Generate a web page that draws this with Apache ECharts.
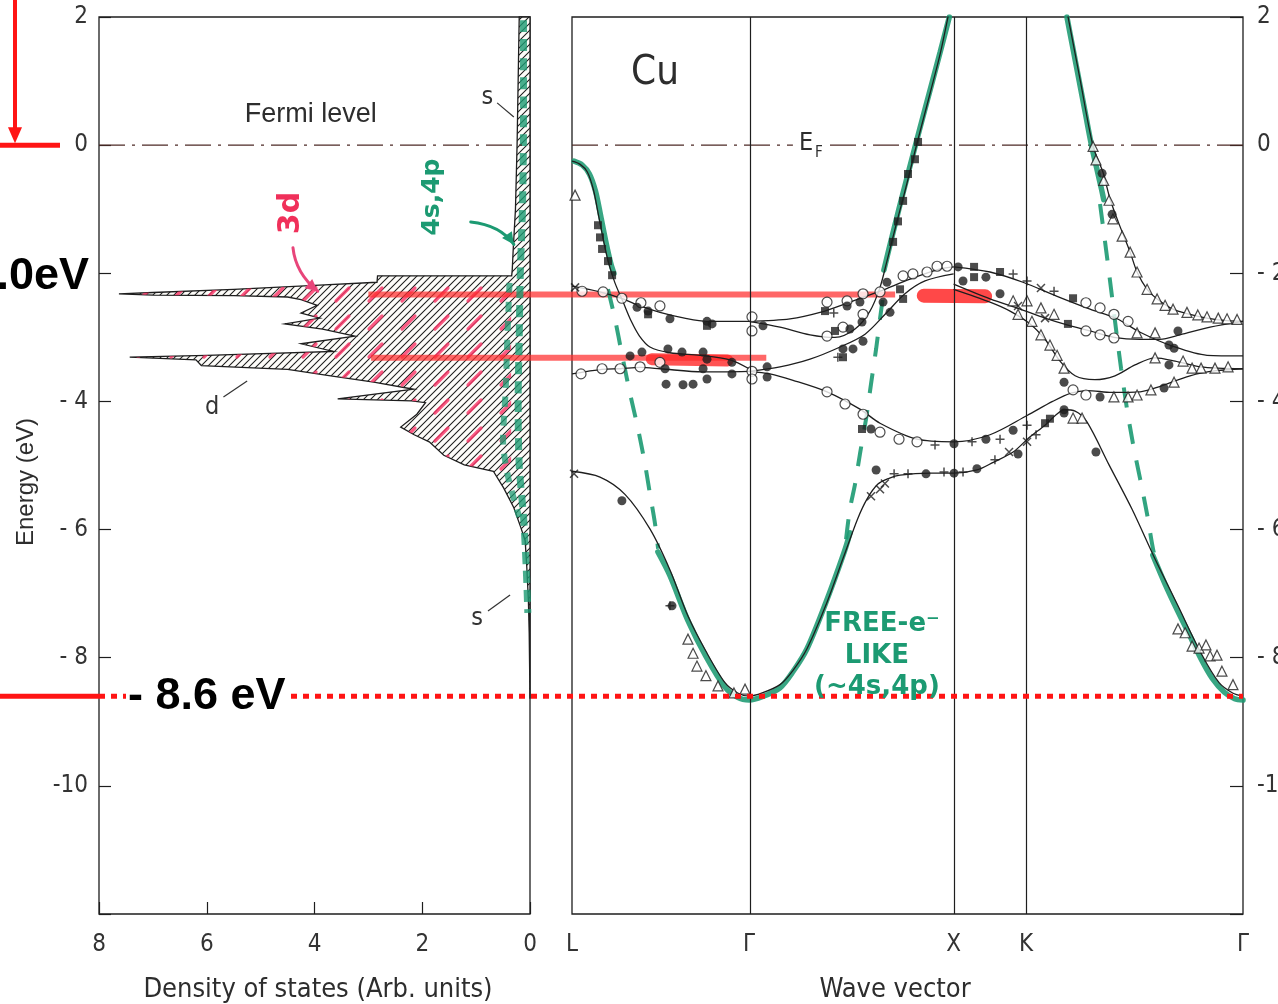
<!DOCTYPE html>
<html>
<head>
<meta charset="utf-8">
<title>Cu: density of states and band structure</title>
<script src="https://cdn.jsdelivr.net/npm/echarts@6/dist/echarts.min.js"></script>
<style>
  html, body { margin: 0; padding: 0; background: #ffffff; }
  #chart { width: 1278px; height: 1004px; }
</style>
</head>
<body>
<div id="chart"></div>
<script>
// ---------------------------------------------------------------
// Data (energies in eV relative to E_F, wave vector in units 2π/a)
// ---------------------------------------------------------------
const kPoints = [0, 0.866, 1.866, 2.220, 3.281];
const kLabels = ['L', 'Γ', 'X', 'K', 'Γ'];
const energyTicks = [2, 0, -2, -4, -6, -8, -10];
const dosTicks = [8, 6, 4, 2, 0];

const fermiEnergy = 0;
const bandBottom = -8.6;        // Γ1, bottom of the s band
const dPeakUpper = -2.33;       // upper d-band peak
const dPeakLower = -3.32;       // lower d-band peak

const dosValue = [0.20, 0.22, 0.24, 0.27, 0.31, 0.33, 0.34, 2.83, 2.84, 4.0, 5.5, 7.0, 7.63, 7.0, 5.5, 4.5, 4.25, 3.95,
  4.25, 3.90, 4.55, 3.85, 3.25, 4.25, 3.65, 6.0, 7.43, 6.2, 6.1, 4.5, 3.70, 2.9, 2.16, 3.57, 2.2, 1.94, 2.1, 2.40,
  2.15, 1.87, 1.60, 1.22, 0.68, 0.49, 0.30, 0.17, 0.09, 0.06, 0.03, 0.015, 0.0];
const dosEnergy = [2.0, 1.0, 0.0, -1.0, -1.6, -1.95, -2.04, -2.04, -2.14, -2.19, -2.25, -2.30, -2.32, -2.34, -2.35, -2.37, -2.41, -2.50,
  -2.62, -2.70, -2.79, -2.87, -2.98, -3.10, -3.22, -3.28, -3.31, -3.35, -3.44, -3.50, -3.60, -3.70, -3.81, -3.96, -3.99, -4.02, -4.20, -4.40,
  -4.52, -4.63, -4.84, -4.99, -5.09, -5.35, -5.66, -5.97, -6.17, -6.58, -7.10, -7.61, -8.64];

// 4s,4p marker strokes along the DOS edge
const dosSpOuter = [[0.12, 1.95], [0.12, 0.5], [0.14, -1.0], [0.18, -2.0], [0.2, -3.0], [0.22, -4.0], [0.2, -5.0], [0.12, -5.8], [0.07, -6.6], [0.04, -7.3]];
const dosSpInner = [[0.38, -2.15], [0.42, -3.0], [0.45, -3.8], [0.5, -4.6], [0.4, -5.2], [0.2, -5.8]];

// calculated bands
const bandA = [[0, -5.09], [0.137, -5.18], [0.259, -5.45], [0.381, -5.99], [0.479, -6.63], [0.567, -7.35], [0.655, -7.90], [0.748, -8.39],
  [0.81, -8.55], [0.866, -8.6], [0.93, -8.55], [1.017, -8.42], [1.08, -8.2], [1.149, -7.86], [1.240, -7.19], [1.330, -6.41], [1.397, -5.83],
  [1.443, -5.52], [1.496, -5.29], [1.55, -5.2], [1.604, -5.15], [1.751, -5.12], [1.866, -5.12], [1.980, -5.07], [2.06, -4.95], [2.157, -4.79],
  [2.24, -4.55], [2.313, -4.37], [2.37, -4.2], [2.406, -4.13], [2.46, -4.15], [2.518, -4.32], [2.626, -4.99], [2.738, -5.68], [2.851, -6.46],
  [2.963, -7.19], [3.076, -7.93], [3.164, -8.39], [3.23, -8.55], [3.281, -8.6]];
const bandB = [[0.866, -3.53], [0.968, -3.57], [1.081, -3.67], [1.247, -3.85], [1.408, -4.12], [1.506, -4.34], [1.687, -4.59], [1.866, -4.63],
  [2.044, -4.52], [2.225, -4.22], [2.35, -4.0], [2.44, -3.87], [2.52, -3.83], [2.64, -3.86], [2.778, -3.85], [2.861, -3.78], [3.022, -3.60],
  [3.15, -3.52], [3.281, -3.49]];
const bandL1 = [[0, -0.25], [0.04, -0.3], [0.075, -0.42], [0.105, -0.7], [0.13, -1.1], [0.155, -1.5], [0.18, -1.85], [0.21, -2.15], [0.25, -2.45],
  [0.29, -2.75], [0.33, -2.98], [0.381, -3.15], [0.479, -3.24], [0.626, -3.28], [0.773, -3.35], [0.866, -3.49]];
const bandL2 = [[0, -2.20], [0.137, -2.29], [0.249, -2.40], [0.333, -2.51], [0.430, -2.61], [0.55, -2.70], [0.660, -2.75], [0.866, -2.75]];
const bandL3 = [[0, -3.57], [0.147, -3.50], [0.235, -3.49], [0.333, -3.47], [0.430, -3.49], [0.641, -3.54], [0.866, -3.53]];
const bandG1 = [[0.866, -2.75], [1.017, -2.84], [1.164, -2.96], [1.286, -3.00], [1.384, -2.87], [1.457, -2.59], [1.506, -2.22], [1.540, -1.81],
  [1.589, -1.19], [1.628, -0.72], [1.687, 0.03], [1.751, 0.81], [1.800, 1.42], [1.839, 2.01]];
const bandG2 = [[0.866, -2.75], [1.066, -2.71], [1.213, -2.61], [1.359, -2.45], [1.506, -2.28], [1.653, -2.09], [1.800, -1.93], [1.866, -1.90]];
const bandG3 = [[0.866, -3.53], [1.017, -3.46], [1.164, -3.34], [1.311, -3.15], [1.433, -2.95], [1.531, -2.64], [1.628, -2.32], [1.726, -2.12], [1.866, -2.01]];
const bandS1 = [[2.425, 2.01], [2.484, 1.03], [2.548, -0.02], [2.596, -0.42], [2.631, -0.84], [2.670, -1.19], [2.729, -1.67], [2.763, -1.98],
  [2.812, -2.25], [2.861, -2.40], [2.939, -2.56], [3.007, -2.63], [3.105, -2.70], [3.203, -2.74], [3.281, -2.75]];
const bandS2 = [[1.866, -1.90], [2.044, -1.98], [2.205, -2.14], [2.372, -2.36], [2.533, -2.56], [2.665, -2.71], [2.778, -2.92], [2.939, -3.14],
  [3.105, -3.28], [3.281, -3.29]];
const bandS3 = [[1.866, -2.17], [2.044, -2.40], [2.191, -2.56], [2.313, -2.70], [2.425, -2.81], [2.533, -2.90], [2.650, -3.00], [2.778, -3.03],
  [2.875, -3.03], [2.973, -2.96], [3.120, -2.84], [3.281, -2.75]];
const bandS4 = [[1.866, -2.25], [2.044, -2.45], [2.142, -2.59], [2.240, -2.79], [2.313, -3.03], [2.386, -3.37], [2.460, -3.60], [2.557, -3.66],
  [2.655, -3.60], [2.753, -3.43], [2.851, -3.32], [2.949, -3.37], [3.071, -3.46], [3.281, -3.49]];

// measured points
const filledCircles = [[0.244, -5.55], [0.489, -7.19], [0.318, -2.53], [0.372, -2.59], [0.479, -2.71], [0.660, -2.75], [0.685, -2.79], [0.934, -2.82],
  [1.345, -2.51], [1.408, -2.45], [1.521, -2.45], [1.540, -2.14], [0.284, -3.29], [0.342, -3.23], [0.469, -3.18], [0.538, -3.23], [0.641, -3.23],
  [0.660, -3.34], [0.455, -3.49], [0.641, -3.49], [0.782, -3.39], [0.782, -3.57], [0.954, -3.46], [0.954, -3.62], [0.460, -3.73], [0.543, -3.74],
  [0.592, -3.73], [0.660, -3.65], [1.325, -3.18], [1.374, -3.18], [1.423, -3.06], [1.359, -2.87], [1.418, -2.76], [1.555, -2.61], [1.462, -4.43],
  [1.868, -4.66], [2.024, -4.59], [2.157, -4.45], [2.406, -4.18], [2.562, -4.79], [1.487, -5.07], [1.731, -5.13], [1.868, -5.12], [1.980, -5.05],
  [2.181, -4.82], [2.406, -4.13], [1.888, -1.90], [1.912, -2.12], [2.024, -2.06], [2.093, -2.32], [2.919, -3.12], [2.406, -3.70], [2.582, -3.93],
  [2.895, -3.79], [2.919, -3.43], [2.944, -3.17], [2.963, -2.90], [2.592, -0.44], [2.641, -1.08]];
const openCircles = [[0.049, -2.28], [0.152, -2.29], [0.244, -2.39], [0.337, -2.46], [0.430, -2.51], [1.247, -2.45], [1.345, -2.43], [1.423, -2.32],
  [1.506, -2.29], [1.619, -2.04], [1.667, -2.01], [1.736, -1.98], [1.785, -1.89], [1.834, -1.89], [0.880, -2.68], [0.880, -2.90], [0.880, -3.53],
  [0.880, -3.65], [0.044, -3.57], [0.147, -3.49], [0.235, -3.49], [0.333, -3.46], [0.430, -3.39], [1.247, -3.85], [1.335, -4.04], [1.423, -4.20],
  [1.506, -4.48], [1.599, -4.59], [1.687, -4.63], [1.247, -2.98], [1.325, -2.84], [1.423, -2.64], [2.513, -2.46], [2.582, -2.54], [2.650, -2.64],
  [2.719, -2.75], [2.513, -2.90], [2.582, -2.96], [2.650, -3.01], [2.450, -3.82], [2.513, -3.90]];
const filledSquares = [[0.127, -1.25], [0.137, -1.44], [0.147, -1.62], [0.176, -1.81], [0.196, -2.03], [0.372, -2.64], [0.660, -2.82], [1.237, -2.59],
  [1.286, -2.90], [1.604, -2.25], [1.619, -2.40], [1.325, -3.31], [1.692, 0.05], [1.677, -0.22], [1.643, -0.45], [1.619, -0.87], [1.594, -1.19],
  [1.570, -1.51], [1.418, -4.43], [2.313, -4.34], [2.337, -4.27], [1.966, -1.90], [1.966, -2.06], [2.093, -1.98], [2.450, -2.39], [2.425, -2.79]];
const openTriangles = [[0.015, -0.78], [0.567, -7.71], [0.592, -7.93], [0.611, -8.13], [0.655, -8.28], [0.714, -8.44], [0.792, -8.55], [0.846, -8.49],
  [2.548, -0.02], [2.562, -0.23], [2.60, -0.55], [2.626, -0.86], [2.645, -1.15], [2.69, -1.42], [2.729, -1.67], [2.763, -1.98], [2.812, -2.25],
  [2.861, -2.40], [2.90, -2.50], [2.939, -2.56], [3.007, -2.61], [3.06, -2.65], [3.105, -2.68], [3.16, -2.70], [3.203, -2.71], [3.252, -2.72],
  [2.157, -2.43], [2.225, -2.43], [2.293, -2.54], [2.357, -2.64], [2.181, -2.64], [2.249, -2.75], [2.293, -2.96], [2.337, -3.12], [2.372, -3.28],
  [2.406, -3.48], [2.650, -3.93], [2.719, -3.93], [2.763, -3.90], [2.831, -3.82], [2.944, -3.70], [2.763, -2.93], [2.851, -2.93], [2.851, -3.32],
  [2.988, -3.37], [3.032, -3.48], [3.076, -3.48], [3.144, -3.48], [3.208, -3.46], [2.450, -4.26], [2.494, -4.26], [2.963, -7.55], [2.998, -7.61],
  [3.032, -7.82], [3.066, -7.85], [3.100, -7.80], [3.120, -7.97], [3.154, -7.96], [3.178, -8.21], [3.232, -8.42]];
const crosses = [[0.01, -5.13], [0.015, -2.22], [1.462, -5.48], [1.506, -5.37], [1.53, -5.28], [2.137, -4.79], [2.225, -4.63], [2.293, -2.23],
  [2.181, -2.51], [2.313, -2.70]];
const pluses = [[0.479, -7.19], [1.575, -5.13], [1.643, -5.13], [1.819, -5.10], [1.912, -5.10], [2.068, -4.91], [2.269, -4.52], [1.775, -4.68],
  [1.956, -4.63], [2.093, -4.59], [2.225, -4.37], [2.157, -2.01], [2.225, -2.12], [2.357, -2.28], [1.28, -2.62], [1.30, -3.31]];

// free-electron-like (4s,4p) branches, traced in green
const greenL = [[0.01, -0.25], [0.05, -0.31], [0.085, -0.45], [0.115, -0.72], [0.14, -1.1], [0.165, -1.5], [0.19, -1.85], [0.205, -2.0]];
const greenGX = [[1.525, -1.95], [1.55, -1.62], [1.60, -0.98], [1.65, -0.36], [1.70, 0.25], [1.75, 0.85], [1.80, 1.45], [1.845, 2.0]];
const greenKG = [[2.42, 2.0], [2.45, 1.5], [2.48, 1.0], [2.51, 0.5], [2.54, 0.0], [2.565, -0.35], [2.59, -0.7], [2.60, -0.85]];
const greenBottomL = [[0.42, -6.35], [0.479, -6.72], [0.567, -7.42], [0.655, -7.98], [0.748, -8.46], [0.81, -8.62], [0.866, -8.66], [0.93, -8.61],
  [1.017, -8.47], [1.08, -8.22], [1.149, -7.86], [1.240, -7.15], [1.330, -6.36], [1.36, -6.05]];
const greenBottomR = [[2.84, -6.40], [2.90, -6.85], [2.963, -7.28], [3.02, -7.65], [3.076, -8.02], [3.13, -8.32], [3.19, -8.54], [3.24, -8.64], [3.281, -8.66]];
const freeElecLG = [[0.176, -2.25], [0.210, -2.71], [0.244, -3.26], [0.284, -3.88], [0.323, -4.43], [0.357, -4.98], [0.381, -5.44], [0.406, -5.91], [0.421, -6.30]];
const freeElecGX = [[1.340, -6.15], [1.359, -5.68], [1.384, -5.29], [1.408, -4.82], [1.438, -4.27], [1.462, -3.73], [1.487, -3.18], [1.506, -2.71], [1.526, -2.25]];
const freeElecKG = [[2.582, -0.92], [2.611, -1.62], [2.636, -2.25], [2.660, -2.87], [2.685, -3.49], [2.714, -4.12], [2.743, -4.66], [2.778, -5.21],
  [2.812, -5.76], [2.841, -6.30], [2.866, -6.61]];

// 3d level markers: [DOS value where the stroke starts, k where it ends]
const upperLevelSpan = [3.0, 1.58];
const lowerLevelSpan = [2.95, 0.95];
const upperLevelBlob = [1.72, 2.02];
const lowerLevelBlob = [0.39, 0.76];

// ---------------------------------------------------------------
// Styles
// ---------------------------------------------------------------
const INK = '#1e1e1e';
const TXT = '#333333';
const GREEN = '#1c9a72';
const NARROW = "'Liberation Sans Narrow', 'DejaVu Sans Condensed', sans-serif";
const SANS = "'Liberation Sans', Arial, sans-serif";
const HAND = "'DejaVu Sans', sans-serif";

function makeHatch() {
  const c = document.createElement('canvas');
  c.width = 7; c.height = 7;
  const g = c.getContext('2d');
  g.fillStyle = '#fdfcf9';
  g.fillRect(0, 0, 7, 7);
  g.strokeStyle = '#1d1d1d';
  g.lineWidth = 1.05;
  g.beginPath();
  g.moveTo(-1, 8); g.lineTo(8, -1);
  g.moveTo(-1, 1); g.lineTo(1, -1);
  g.moveTo(6, 8); g.lineTo(8, 6);
  g.stroke();
  return c;
}
function makePinkMarks() {
  const c = document.createElement('canvas');
  c.width = 33; c.height = 28;
  const g = c.getContext('2d');
  g.strokeStyle = 'rgba(250, 55, 105, 0.82)';
  g.lineWidth = 3.2;
  g.lineCap = 'round';
  g.beginPath();
  g.moveTo(6, 21); g.lineTo(19, 8);
  g.stroke();
  return c;
}
const hatchFill = { image: makeHatch(), repeat: 'repeat' };
const pinkFill = { image: makePinkMarks(), repeat: 'repeat' };

const fmtEnergy = v => {
  if (v === -12) return '';
  if (v < 0) return (v <= -10 ? '-' : '- ') + (-v);
  return String(v);
};

const dosOutline = [[0, 2]].concat(dosValue.map((v, i) => [v, dosEnergy[i]]), [[0, -8.64]]);
const dBandOutline = dosValue.map((v, i) => [v, dosEnergy[i]])
  .filter(p => p[1] <= -2.03 && p[1] >= -5.1)
  .concat([[0.35, -5.1], [0.35, -2.04]]);

function polygonSeries(points, fill, stroke, z) {
  return {
    type: 'custom', xAxisIndex: 0, yAxisIndex: 0, z, silent: true,
    data: [[0, 0]],
    renderItem: (params, api) => ({
      type: 'polygon',
      shape: { points: points.map(p => api.coord(p)) },
      style: { fill, stroke: stroke || null, lineWidth: 1.3, lineJoin: 'miter' }
    })
  };
}
function bandLine(data, extra) {
  return Object.assign({
    type: 'line', xAxisIndex: 1, yAxisIndex: 1, data, smooth: 0.3, symbol: 'none', silent: true, z: 3,
    lineStyle: { color: INK, width: 1.3 }
  }, extra || {});
}
function greenLine(data, dashed) {
  return {
    type: 'line', xAxisIndex: 1, yAxisIndex: 1, data, smooth: 0.3, symbol: 'none', silent: true, z: 2,
    lineStyle: dashed
      ? { color: GREEN, width: 4, type: [20, 17], opacity: 0.9 }
      : { color: GREEN, width: 5.5, opacity: 0.88, cap: 'round' }
  };
}
function markers(data, symbol, size, filled) {
  return {
    type: 'scatter', xAxisIndex: 1, yAxisIndex: 1, data, symbol, symbolSize: size, silent: true, z: 4,
    itemStyle: filled === 'stroke'
      ? { color: 'rgba(0,0,0,0)', borderColor: INK, borderWidth: 1.5 }
      : filled
        ? { color: INK }
        : { color: '#ffffff', borderColor: INK, borderWidth: 1.2 }
  };
}

const tickLabel = { fontSize: 24, fontFamily: NARROW, color: TXT };

const option = {
  animation: false,
  backgroundColor: '#ffffff',
  grid: [
    { left: 99, top: 17, width: 431, height: 897, show: true, borderColor: INK, borderWidth: 1.3,
      containLabel: false, outerBoundsMode: 'none' },
    { left: 572, top: 17, width: 671, height: 897, show: true, borderColor: INK, borderWidth: 1.3,
      containLabel: false, outerBoundsMode: 'none' }
  ],
  xAxis: [
    {
      gridIndex: 0, type: 'value', min: 0, max: 8, interval: 2, inverse: true, position: 'bottom',
      axisLine: { show: false, onZero: false }, splitLine: { show: false },
      axisTick: { show: true, inside: true, length: 12, lineStyle: { color: INK, width: 1.2 } },
      axisLabel: Object.assign({ margin: 19, customValues: dosTicks }, tickLabel)
    },
    {
      gridIndex: 1, type: 'value', min: 0, max: kPoints[kPoints.length - 1], position: 'bottom',
      axisLine: { show: false, onZero: false }, splitLine: { show: false }, axisTick: { show: false },
      axisLabel: Object.assign({
        margin: 19,
        customValues: kPoints,
        formatter: v => {
          let best = 0;
          kPoints.forEach((k, i) => { if (Math.abs(k - v) < Math.abs(kPoints[best] - v)) best = i; });
          return kLabels[best];
        }
      }, tickLabel)
    }
  ],
  yAxis: [
    {
      gridIndex: 0, type: 'value', min: -12, max: 2, interval: 2, position: 'left',
      axisLine: { show: false, onZero: false }, splitLine: { show: false },
      axisTick: { show: true, inside: true, length: 12, lineStyle: { color: INK, width: 1.2 } },
      axisLabel: Object.assign({ margin: 11, formatter: fmtEnergy, customValues: energyTicks }, tickLabel)
    },
    {
      gridIndex: 1, type: 'value', position: 'right', min: -12, max: 2, interval: 2,
      axisLine: { show: false, onZero: false }, splitLine: { show: false },
      axisTick: { show: true, inside: true, length: 13, lineStyle: { color: INK, width: 1.2 } },
      axisLabel: Object.assign({ margin: 14, formatter: fmtEnergy, customValues: energyTicks }, tickLabel)
    }
  ],
  series: [
    polygonSeries(dosOutline, hatchFill, INK, 1),
    polygonSeries(dBandOutline, pinkFill, null, 1),
    {
      type: 'line', xAxisIndex: 0, yAxisIndex: 0, data: dosSpOuter, smooth: 0.3, symbol: 'none', silent: true, z: 2,
      lineStyle: { color: GREEN, width: 7, type: [12, 7], opacity: 0.8 }
    },
    {
      type: 'line', xAxisIndex: 0, yAxisIndex: 0, data: dosSpInner, smooth: 0.3, symbol: 'none', silent: true, z: 2,
      lineStyle: { color: GREEN, width: 6, type: [10, 9], opacity: 0.75 }
    },
    // Fermi level in both panels
    {
      type: 'line', xAxisIndex: 0, yAxisIndex: 0, data: [[8, fermiEnergy], [0, fermiEnergy]], symbol: 'none', silent: true, z: 2,
      lineStyle: { color: '#4d2a26', width: 1.4, type: [26, 7, 3, 7] }
    },
    {
      type: 'line', xAxisIndex: 1, yAxisIndex: 1, data: [[0, fermiEnergy], [kPoints[4], fermiEnergy]], symbol: 'none', silent: true, z: 2,
      lineStyle: { color: '#4d2a26', width: 1.4, type: [26, 7, 3, 7] }
    },
    greenLine(greenL), greenLine(greenGX), greenLine(greenKG), greenLine(greenBottomL), greenLine(greenBottomR),
    greenLine(freeElecLG, true), greenLine(freeElecGX, true), greenLine(freeElecKG, true),
    bandLine(bandA, {
      markLine: {
        silent: true, symbol: ['none', 'none'], label: { show: false },
        lineStyle: { color: INK, width: 1.2, type: 'solid' },
        data: kPoints.slice(1, 4).map(k => ({ xAxis: k }))
      }
    }),
    bandLine(bandB), bandLine(bandL1), bandLine(bandL2), bandLine(bandL3),
    bandLine(bandG1), bandLine(bandG2), bandLine(bandG3),
    bandLine(bandS1), bandLine(bandS2), bandLine(bandS3), bandLine(bandS4),
    markers(openCircles, 'circle', 10, false),
    markers(openTriangles, 'triangle', 10, false),
    markers(filledCircles, 'circle', 9, true),
    markers(filledSquares, 'rect', 8, true),
    markers(crosses, 'path://M0,0L10,10M10,0L0,10', 8, 'stroke'),
    markers(pluses, 'path://M5,0L5,10M0,5L10,5', 9, 'stroke')
  ]
};

const chart = echarts.init(document.getElementById('chart'), null, { renderer: 'canvas' });
chart.setOption(option);

// ---------------------------------------------------------------
// Labels, level markers and hand annotations, placed through the axes
// ---------------------------------------------------------------
const P0 = p => chart.convertToPixel({ gridIndex: 0 }, p);
const P1 = p => chart.convertToPixel({ gridIndex: 1 }, p);
const els = [];
function seg(a, b, style, z) {
  els.push({ type: 'line', silent: true, z: z || 20, shape: { x1: a[0], y1: a[1], x2: b[0], y2: b[1] }, style });
}
function label(pos, str, style, extra) {
  els.push(Object.assign({ type: 'text', silent: true, z: 22, x: pos[0], y: pos[1],
    style: Object.assign({ text: str, fill: TXT, align: 'center', verticalAlign: 'middle' }, style) }, extra || {}));
}
function arrow(from, ctrl, to, color, width) {
  els.push({ type: 'bezierCurve', silent: true, z: 21,
    shape: { x1: from[0], y1: from[1], cpx1: ctrl[0], cpy1: ctrl[1], x2: to[0], y2: to[1] },
    style: { stroke: color, lineWidth: width, fill: null, lineCap: 'round' } });
  const a = Math.atan2(to[1] - ctrl[1], to[0] - ctrl[0]);
  const L = 12, W = 6;
  const bx = to[0] - L * Math.cos(a), by = to[1] - L * Math.sin(a);
  els.push({ type: 'polygon', silent: true, z: 21,
    shape: { points: [[to[0], to[1]], [bx + W * Math.sin(a), by - W * Math.cos(a)], [bx - W * Math.sin(a), by + W * Math.cos(a)]] },
    style: { fill: color } });
}

// 3d level strokes running from the DOS peaks across to the bands
const redStroke = { stroke: 'rgba(255, 45, 45, 0.72)', lineWidth: 6 };
seg(P0([upperLevelSpan[0], dPeakUpper]), P1([upperLevelSpan[1], dPeakUpper]), redStroke, 2);
seg(P0([lowerLevelSpan[0], dPeakLower]), P1([lowerLevelSpan[1], dPeakLower]), redStroke, 2);
seg(P1([upperLevelBlob[0], dPeakUpper - 0.02]), P1([upperLevelBlob[1], dPeakUpper - 0.03]),
  { stroke: 'rgba(255, 40, 40, 0.85)', lineWidth: 14, lineCap: 'round' }, 2);
seg(P1([lowerLevelBlob[0], dPeakLower - 0.02]), P1([lowerLevelBlob[1], dPeakLower - 0.04]),
  { stroke: 'rgba(255, 40, 40, 0.8)', lineWidth: 12, lineCap: 'round' }, 2);

// bottom of the band
const yBottom = P0([8, bandBottom])[1];
seg([0, yBottom], [P0([8, bandBottom])[0], yBottom], { stroke: '#ff1414', lineWidth: 5 }, 30);
seg(P0([8, bandBottom]), P1([kPoints[4], bandBottom]), { stroke: '#ff1414', lineWidth: 5, lineDash: [6, 6] }, 30);
label([126, yBottom], '- 8.6 eV', { fill: '#000', fontSize: 45, fontWeight: 'bold', fontFamily: SANS, align: 'left',
  backgroundColor: '#ffffff', padding: [0, 4, 0, 2] }, { z: 31 });

// Fermi level marker and d-band width on the left edge
const yF = P0([8, fermiEnergy])[1];
seg([0, yF], [60, yF], { stroke: '#ff1414', lineWidth: 5 }, 30);
seg([15, 0], [15, yF - 16], { stroke: '#ff1414', lineWidth: 4 }, 30);
els.push({ type: 'polygon', silent: true, z: 30, shape: { points: [[8, yF - 18], [22, yF - 18], [15, yF - 2]] }, style: { fill: '#ff1414' } });
label([91, P0([8, -2])[1] + 3], '-2.0eV', { fill: '#000', fontSize: 45, fontWeight: 'bold', fontFamily: SANS, align: 'right',
  backgroundColor: '#ffffff', padding: [0, 2, 0, 0] }, { z: 31 });

// printed labels
label(P0([4.07, 0.47]), 'Fermi level', { fontSize: 27, fontFamily: SANS, fill: '#2d2d2d' });
label(P1([0.406, 1.11]), 'Cu', { fontSize: 40, fontFamily: NARROW, fill: '#2d2d2d' });
label(P1([1.154, 0.03]), 'E', { fontSize: 25, fontFamily: NARROW, fill: '#2d2d2d', backgroundColor: '#ffffff', padding: [2, 10, 2, 6] });
const ef = P1([1.154, 0.03]);
label([ef[0] + 11, ef[1] + 10], 'F', { fontSize: 15, fontFamily: NARROW, fill: '#2d2d2d' });
label(P0([5.9, -4.09]), 'd', { fontSize: 25, fontFamily: NARROW });
seg(P0([5.69, -3.93]), P0([5.25, -3.68]), { stroke: '#333', lineWidth: 1.2 });
label(P0([0.79, 0.75]), 's', { fontSize: 25, fontFamily: NARROW });
seg(P0([0.61, 0.66]), P0([0.30, 0.44]), { stroke: '#333', lineWidth: 1.2 });
label(P0([0.98, -7.39]), 's', { fontSize: 25, fontFamily: NARROW });
seg(P0([0.78, -7.27]), P0([0.37, -7.02]), { stroke: '#333', lineWidth: 1.2 });

// hand notes
label(P0([4.44, -1.06]), '3d', { fontSize: 30, fontWeight: 'bold', fontFamily: HAND, fill: '#f0305a' }, { rotation: Math.PI / 2 });
arrow(P0([4.4, -1.6]), P0([4.35, -2.0]), P0([3.94, -2.28]), '#e8457a', 3);
label(P0([1.81, -0.81]), '4s,4p', { fontSize: 25, fontWeight: 'bold', fontFamily: HAND, fill: GREEN }, { rotation: Math.PI / 2 });
arrow(P0([1.1, -1.2]), P0([0.55, -1.25]), P0([0.3, -1.55]), GREEN, 3);
label(P1([1.516, -7.47]), 'FREE-e\u207B', { fontSize: 26, fontWeight: 'bold', fontFamily: HAND, fill: GREEN });
label(P1([1.491, -7.97]), 'LIKE', { fontSize: 26, fontWeight: 'bold', fontFamily: HAND, fill: GREEN });
label(P1([1.491, -8.46]), '(~4s,4p)', { fontSize: 26, fontWeight: 'bold', fontFamily: HAND, fill: GREEN }, { z: 32 });

// axis titles
label([318, 990], 'Density of states (Arb. units)', { fontSize: 27, fontFamily: NARROW, fill: '#2d2d2d' });
label([895, 990], 'Wave vector', { fontSize: 27, fontFamily: NARROW, fill: '#2d2d2d' });
label([26, 482], 'Energy (eV)', { fontSize: 24, fontFamily: SANS, fill: '#2d2d2d' }, { rotation: Math.PI / 2 });

chart.setOption({ graphic: { elements: els } });
</script>
</body>
</html>
